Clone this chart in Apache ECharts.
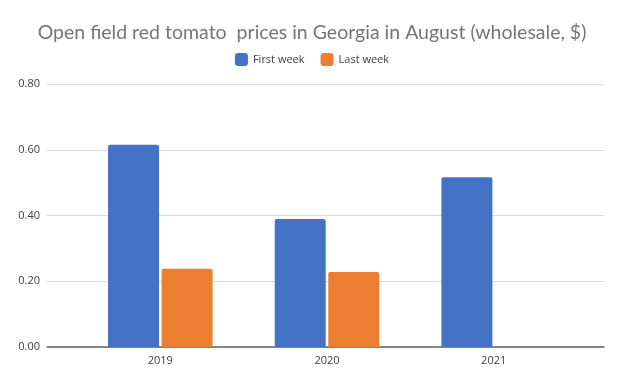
<!DOCTYPE html>
<html>
<head>
<meta charset="utf-8">
<script src="https://cdn.jsdelivr.net/npm/echarts@6/dist/echarts.min.js"></script>
<style>html,body{margin:0;padding:0;background:#fff}#c{width:624px;height:385px}</style>
</head>
<body>
<div id="c"></div>
<script>
var categories = ['2019', '2020', '2021'];
var firstWeek = [0.615, 0.389, 0.516];
var lastWeek = [0.238, 0.228, null];
var yTicks = [0, 0.2, 0.4, 0.6, 0.8];

var chart = echarts.init(document.getElementById('c'));
var font = "'Open Sans', 'Noto Sans', sans-serif";
chart.setOption({
  animation: false,
  backgroundColor: '#ffffff',
  title: {
    text: 'Open field red tomato  prices in Georgia in August (wholesale, $)',
    left: 'center', top: 18,
    textStyle: {fontFamily: "Lato, 'Open Sans', sans-serif", fontSize: 19.5, fontWeight: 'normal', color: '#757575'}
  },
  legend: {
    top: 48, left: 'center', itemWidth: 13, itemHeight: 13, itemGap: 16,
    textStyle: {fontFamily: font, fontSize: 11, color: '#404040'},
    data: ['First week', 'Last week']
  },
  grid: [
    {left: 47, right: 20, top: 84, bottom: 38},
    {left: 77, right: 47, top: 84, bottom: 38}
  ],
  xAxis: [
    {type: 'category', gridIndex: 0, data: [''], axisLine: {lineStyle: {color: '#666666', width: 1.5}},
     axisTick: {show: false}, axisLabel: {show: false}},
    {type: 'category', gridIndex: 1, data: categories, axisLine: {show: false}, axisTick: {show: false},
     axisLabel: {fontFamily: font, fontSize: 11, color: '#404040', margin: 8}}
  ],
  yAxis: [
    {type: 'value', gridIndex: 0, min: yTicks[0], max: yTicks[yTicks.length - 1], interval: 0.2,
     axisLine: {show: false}, axisTick: {show: false},
     axisLabel: {fontFamily: font, fontSize: 11, color: '#404040', margin: 7,
                 formatter: function (v) { return v.toFixed(2); }},
     splitLine: {lineStyle: {color: '#d9d9d9', width: 1}}},
    {type: 'value', gridIndex: 1, min: yTicks[0], max: yTicks[yTicks.length - 1], interval: 0.2,
     axisLine: {show: false}, axisTick: {show: false}, axisLabel: {show: false}, splitLine: {show: false}}
  ],
  series: [
    {name: 'First week', type: 'bar', xAxisIndex: 1, yAxisIndex: 1, data: firstWeek,
     barWidth: 51, barGap: '5%', itemStyle: {color: '#4472C4', borderRadius: [2, 2, 0, 0]}},
    {name: 'Last week', type: 'bar', xAxisIndex: 1, yAxisIndex: 1, data: lastWeek,
     barWidth: 51, barGap: '5%', itemStyle: {color: '#ED7D31', borderRadius: [2, 2, 0, 0]}}
  ]
});
</script>
</body>
</html>
